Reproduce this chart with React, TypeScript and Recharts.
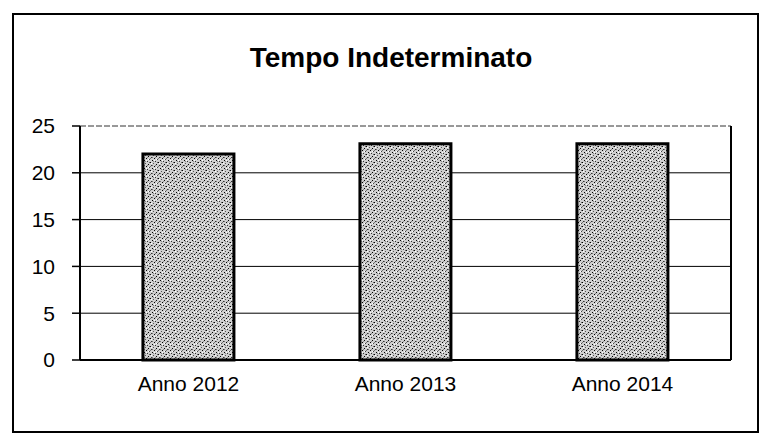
import React from "react";
import { BarChart, Bar, XAxis, YAxis, CartesianGrid, ReferenceLine } from "recharts";

const categories = ["Anno 2012", "Anno 2013", "Anno 2014"];
const values = [22.0, 23.1, 23.1];
const yTicks = [0, 5, 10, 15, 20, 25];
const gridValues = [0, 5, 10, 15, 20];
const boundaryTicks = [0, 1, 2, 3];
const title = "Tempo Indeterminato";

const data = categories.map((c, i) => ({ name: c, value: values[i] }));

const FONT = "'Liberation Sans', Arial, sans-serif";

export default function App() {
  return (
    <div style={{ position: "absolute", left: 0, top: 0, width: 762, height: 441, background: "#fff", fontFamily: FONT }}>
      <div
        style={{
          position: "absolute",
          left: 12,
          top: 13,
          width: 743,
          height: 416,
          border: "2px solid #000",
        }}
      />
      <div
        style={{
          position: "absolute",
          left: 10,
          top: 42,
          width: 762,
          textAlign: "center",
          fontSize: 28,
          fontWeight: "bold",
          color: "#000",
          fontFamily: FONT,
        }}
      >
        {title}
      </div>
      <div style={{ position: "absolute", left: 0, top: 0 }}>
        <BarChart
          width={762}
          height={441}
          data={data}
          margin={{ top: 126, right: 31, bottom: 41, left: 0 }}
          barCategoryGap="29%"
        >
          <defs>
            <pattern id="stipple" width="8" height="8" patternUnits="userSpaceOnUse">
              <rect width="8" height="8" fill="#cfcfcf" />
              <rect x="0" y="0" width="1" height="1" fill="#000" />
              <rect x="3" y="1" width="1" height="1" fill="#333" />
              <rect x="6" y="2" width="1" height="1" fill="#000" />
              <rect x="1" y="3" width="1" height="1" fill="#555" />
              <rect x="4" y="4" width="1" height="1" fill="#000" />
              <rect x="7" y="5" width="1" height="1" fill="#333" />
              <rect x="2" y="6" width="1" height="1" fill="#000" />
              <rect x="5" y="7" width="1" height="1" fill="#444" />
              <rect x="0" y="5" width="1" height="1" fill="#777" />
              <rect x="5" y="2" width="1" height="1" fill="#666" />
              <rect x="3" y="5" width="1" height="1" fill="#888" />
              <rect x="6" y="6" width="1" height="1" fill="#777" />
              <rect x="2" y="0" width="1" height="1" fill="#fff" />
              <rect x="7" y="3" width="1" height="1" fill="#fff" />
              <rect x="4" y="7" width="1" height="1" fill="#fff" />
              <rect x="1" y="1" width="1" height="1" fill="#888" />
            </pattern>
          </defs>
          <CartesianGrid vertical={false} stroke="#000" strokeWidth={1} horizontalValues={gridValues} />
          <XAxis
            xAxisId="b"
            type="number"
            dataKey="idx"
            domain={[0, 3]}
            ticks={boundaryTicks}
            tick={false}
            tickSize={8}
            tickLine={{ stroke: "#000", strokeWidth: 1.5 }}
            axisLine={false}
            height={0}
            allowDataOverflow
          />
          <XAxis
            dataKey="name"
            tickLine={false}
            tickSize={0}
            tickMargin={16}
            axisLine={{ stroke: "#000", strokeWidth: 2 }}
            tick={{ fill: "#000", fontSize: 21, fontFamily: FONT }}
            height={40}
          />
          <YAxis
            domain={[0, 25]}
            ticks={yTicks}
            width={80}
            tickSize={8}
            tickMargin={17}
            tickLine={{ stroke: "#000", strokeWidth: 1.5 }}
            axisLine={{ stroke: "#000", strokeWidth: 2 }}
            tick={{ fill: "#000", fontSize: 21, fontFamily: FONT }}
            interval={0}
          />
          <ReferenceLine y={25} stroke="#333" strokeWidth={1} strokeDasharray="6 2" />
          <ReferenceLine xAxisId="b" x={3} stroke="#000" strokeWidth={2} />
          <Bar dataKey="value" fill="url(#stipple)" stroke="#000" strokeWidth={3} isAnimationActive={false} />
        </BarChart>
      </div>
    </div>
  );
}
